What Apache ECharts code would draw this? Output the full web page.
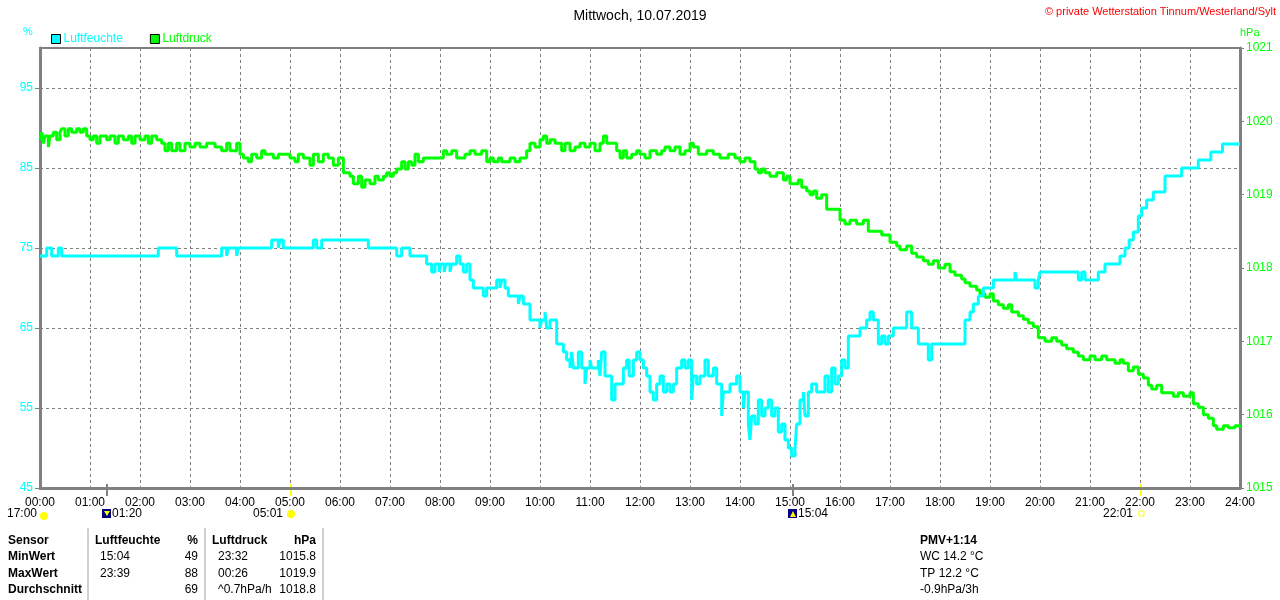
<!DOCTYPE html>
<html>
<head>
<meta charset="utf-8">
<title>Mittwoch, 10.07.2019</title>
<script src="https://cdn.jsdelivr.net/npm/echarts@6/dist/echarts.min.js"></script>
<style>
    html, body { margin: 0; padding: 0; background: #fff; }
    #chart { width: 1280px; height: 600px; }
</style>
</head>
<body>
<div id="chart"></div>
<script>
// Luftfeuchte (%), Stufenwerte: Zeitpunkt des Wechsels und neuer Wert
const humTimes = ['00:00', '00:08', '00:14', '00:22', '00:26', '02:22', '02:44', '03:38', '03:44', '03:46', '03:56', '03:58',
    '04:38', '04:46', '04:48', '04:52', '05:28', '05:32', '05:38', '06:34', '07:08', '07:14', '07:24', '07:44',
    '07:50', '07:54', '07:59', '08:01', '08:05', '08:07', '08:12', '08:14', '08:20', '08:24', '08:28', '08:32',
    '08:36', '08:40', '08:52', '08:56', '09:08', '09:12', '09:14', '09:18', '09:22', '09:34', '09:36', '09:40',
    '09:48', '10:00', '10:02', '10:06', '10:08', '10:12', '10:20', '10:28', '10:32', '10:36', '10:38', '10:40',
    '10:46', '10:50', '10:54', '10:56', '11:00', '11:02', '11:10', '11:12', '11:14', '11:18', '11:26', '11:30',
    '11:34', '11:40', '11:44', '11:47', '11:52', '11:56', '12:00', '12:04', '12:08', '12:12', '12:16', '12:20',
    '12:24', '12:28', '12:32', '12:36', '12:40', '12:44', '12:50', '12:54', '12:58', '13:02', '13:04', '13:08',
    '13:12', '13:18', '13:22', '13:28', '13:32', '13:38', '13:40', '13:48', '13:56', '14:00', '14:04', '14:06',
    '14:10', '14:12', '14:14', '14:18', '14:22', '14:26', '14:30', '14:34', '14:38', '14:42', '14:46', '14:50',
    '14:54', '14:58', '15:02', '15:06', '15:08', '15:12', '15:16', '15:18', '15:22', '15:26', '15:32', '15:36',
    '15:42', '15:46', '15:50', '15:54', '15:58', '16:02', '16:06', '16:10', '16:24', '16:32', '16:36', '16:40',
    '16:46', '16:50', '16:54', '16:58', '17:04', '17:20', '17:26', '17:34', '17:46', '17:50', '18:30', '18:36',
    '18:40', '18:46', '18:52', '19:04', '19:30', '19:32', '19:54', '19:58', '20:00', '20:46', '20:50', '20:54',
    '21:10', '21:18', '21:36', '21:42', '21:47', '21:52', '21:58', '22:02', '22:08', '22:16', '22:30', '22:50',
    '23:10', '23:25', '23:39', '24:00'];
const humValues = [74, 75, 74, 75, 74, 75, 74, 75, 74, 75, 74, 75,
    76, 75, 76, 75, 76, 75, 76, 75, 74, 75, 74, 73,
    72, 73, 72, 73, 72, 73, 72, 73, 74, 73, 72, 73,
    71, 70, 69, 70, 71, 70, 71, 70, 69, 68, 69, 68,
    66, 65, 66, 67, 65, 66, 63, 62, 61, 60, 62, 60,
    62, 60, 58, 60, 61, 60, 61, 59, 62, 59, 56, 58,
    58, 60, 61, 59, 61, 62, 61, 60, 59, 57, 56, 58,
    59, 57, 58, 57, 58, 60, 61, 60, 61, 56, 59, 58,
    59, 61, 59, 60, 58, 54, 57, 58, 59, 57, 55, 57,
    53, 51, 54, 53, 56, 54, 55, 56, 54, 55, 52, 53,
    51, 50, 49, 50, 53, 56, 57, 54, 57, 58, 57, 57,
    59, 57, 60, 58, 59, 61, 60, 64, 65, 66, 67, 66,
    63, 64, 63, 64, 65, 67, 65, 63, 61, 63, 66, 67,
    68, 69, 70, 71, 72, 71, 70, 71, 72, 71, 72, 71,
    72, 73, 74, 75, 76, 77, 79, 80, 81, 82, 84, 85,
    86, 87, 88, 88];

// Luftdruck (hPa)
const presTimes = ['00:00', '00:02', '00:04', '00:06', '00:10', '00:12', '00:16', '00:20', '00:24', '00:26', '00:30', '00:34',
    '00:38', '00:44', '00:48', '00:52', '00:56', '01:00', '01:04', '01:08', '01:12', '01:20', '01:24', '01:30',
    '01:34', '01:40', '01:46', '01:50', '01:54', '02:00', '02:06', '02:10', '02:14', '02:20', '02:26', '02:30',
    '02:34', '02:38', '02:44', '02:48', '02:54', '03:00', '03:06', '03:12', '03:20', '03:30', '03:38', '03:44',
    '03:48', '03:56', '04:00', '04:04', '04:10', '04:14', '04:20', '04:26', '04:30', '04:40', '04:46', '05:00',
    '05:06', '05:10', '05:16', '05:24', '05:28', '05:34', '05:40', '05:46', '05:52', '05:58', '06:04', '06:12',
    '06:16', '06:22', '06:26', '06:30', '06:36', '06:42', '06:46', '06:52', '06:56', '07:00', '07:04', '07:08',
    '07:14', '07:18', '07:22', '07:26', '07:30', '07:34', '07:40', '08:04', '08:08', '08:14', '08:20', '08:30',
    '08:36', '08:42', '08:50', '08:56', '09:00', '09:04', '09:10', '09:14', '09:24', '09:30', '09:36', '09:44',
    '09:48', '09:54', '10:00', '10:04', '10:08', '10:12', '10:18', '10:26', '10:30', '10:36', '10:42', '10:48',
    '10:54', '11:00', '11:06', '11:12', '11:16', '11:20', '11:32', '11:36', '11:40', '11:44', '11:50', '11:56',
    '12:00', '12:06', '12:12', '12:20', '12:26', '12:30', '12:36', '12:42', '12:48', '12:54', '13:00', '13:04',
    '13:10', '13:20', '13:28', '13:36', '13:46', '13:54', '14:00', '14:06', '14:12', '14:18', '14:22', '14:26',
    '14:30', '14:36', '14:44', '14:52', '14:56', '15:00', '15:10', '15:14', '15:20', '15:24', '15:28', '15:32',
    '15:38', '15:44', '16:00', '16:06', '16:12', '16:20', '16:28', '16:34', '16:50', '17:00', '17:08', '17:12',
    '17:20', '17:26', '17:32', '17:40', '17:46', '17:52', '17:58', '18:06', '18:12', '18:18', '18:26', '18:30',
    '18:36', '18:44', '18:48', '18:54', '19:00', '19:04', '19:10', '19:16', '19:22', '19:26', '19:34', '19:40',
    '19:46', '19:52', '19:58', '20:06', '20:14', '20:20', '20:26', '20:32', '20:40', '20:46', '20:52', '21:00',
    '21:06', '21:14', '21:20', '21:30', '21:36', '21:40', '21:46', '21:52', '21:58', '22:04', '22:10', '22:14',
    '22:20', '22:26', '22:40', '22:46', '22:52', '23:00', '23:04', '23:10', '23:16', '23:22', '23:28', '23:32',
    '23:40', '23:46', '23:54', '24:00'];
const presValues = [1019.75, 1019.85, 1019.7, 1019.8, 1019.65, 1019.8, 1019.85, 1019.75, 1019.85, 1019.9, 1019.8, 1019.9,
    1019.85, 1019.9, 1019.85, 1019.9, 1019.8, 1019.75, 1019.8, 1019.7, 1019.8, 1019.75, 1019.8, 1019.7,
    1019.8, 1019.75, 1019.8, 1019.7, 1019.8, 1019.75, 1019.8, 1019.7, 1019.8, 1019.75, 1019.7, 1019.6,
    1019.7, 1019.6, 1019.7, 1019.6, 1019.7, 1019.65, 1019.7, 1019.65, 1019.7, 1019.65, 1019.6, 1019.7,
    1019.6, 1019.7, 1019.55, 1019.5, 1019.45, 1019.55, 1019.5, 1019.6, 1019.55, 1019.5, 1019.55, 1019.5,
    1019.45, 1019.55, 1019.5, 1019.4, 1019.55, 1019.45, 1019.55, 1019.5, 1019.4, 1019.5, 1019.3, 1019.25,
    1019.15, 1019.25, 1019.1, 1019.2, 1019.15, 1019.25, 1019.2, 1019.25, 1019.3, 1019.25, 1019.3, 1019.35,
    1019.45, 1019.35, 1019.45, 1019.4, 1019.55, 1019.45, 1019.5, 1019.6, 1019.55, 1019.6, 1019.5, 1019.55,
    1019.6, 1019.55, 1019.6, 1019.45, 1019.5, 1019.45, 1019.5, 1019.45, 1019.5, 1019.45, 1019.5, 1019.6,
    1019.7, 1019.65, 1019.75, 1019.8, 1019.7, 1019.75, 1019.7, 1019.6, 1019.7, 1019.6, 1019.65, 1019.7,
    1019.65, 1019.7, 1019.6, 1019.7, 1019.8, 1019.7, 1019.6, 1019.5, 1019.6, 1019.5, 1019.55, 1019.6,
    1019.55, 1019.5, 1019.6, 1019.55, 1019.6, 1019.65, 1019.6, 1019.65, 1019.55, 1019.6, 1019.7, 1019.65,
    1019.55, 1019.6, 1019.55, 1019.5, 1019.55, 1019.5, 1019.45, 1019.5, 1019.45, 1019.35, 1019.3, 1019.35,
    1019.3, 1019.25, 1019.3, 1019.2, 1019.25, 1019.15, 1019.2, 1019.1, 1019.05, 1019.0, 1019.05, 1018.95,
    1019.0, 1018.8, 1018.65, 1018.6, 1018.65, 1018.6, 1018.65, 1018.5, 1018.45, 1018.35, 1018.3, 1018.25,
    1018.3, 1018.2, 1018.15, 1018.1, 1018.05, 1018.1, 1018.0, 1018.05, 1017.95, 1017.9, 1017.85, 1017.8,
    1017.75, 1017.7, 1017.65, 1017.6, 1017.65, 1017.55, 1017.5, 1017.45, 1017.5, 1017.4, 1017.35, 1017.3,
    1017.25, 1017.2, 1017.05, 1017.0, 1017.05, 1017.0, 1016.95, 1016.9, 1016.85, 1016.8, 1016.75, 1016.8,
    1016.75, 1016.8, 1016.75, 1016.7, 1016.75, 1016.7, 1016.6, 1016.65, 1016.55, 1016.5, 1016.4, 1016.35,
    1016.4, 1016.3, 1016.25, 1016.3, 1016.25, 1016.3, 1016.15, 1016.1, 1016.0, 1015.95, 1015.85, 1015.8,
    1015.85, 1015.82, 1015.85, 1015.82];

// Tabelle unten
const tableRows = [
    ['Sensor', 'Luftfeuchte', '%', 'Luftdruck', 'hPa'],
    ['MinWert', '15:04', '49', '23:32', '1015.8'],
    ['MaxWert', '23:39', '88', '00:26', '1019.9'],
    ['Durchschnitt', '', '69', '^0.7hPa/h', '1018.8']
];
const infoLines = ['PMV+1:14', 'WC 14.2 °C', 'TP 12.2 °C', '-0.9hPa/3h'];

// Sonne / Mond Auf- und Untergang
const sunMoonMarks = [
    {time: '01:20', label: '01:20', kind: 'moonrise'},
    {time: '05:01', label: '05:01', kind: 'sunrise'},
    {time: '15:04', label: '15:04', kind: 'moonset'},
    {time: '22:01', label: '22:01', kind: 'sunset'}
];

const FONT = 'Liberation Sans, Arial, sans-serif';
const CYAN = '#00ffff';
const GREEN = '#00ff00';
const GREY = '#808080';

function toMinutes(t) {
    const p = t.split(':');
    return Number(p[0]) * 60 + Number(p[1]);
}

function pad(n) {
    return (n < 10 ? '0' : '') + n;
}

const humData = humTimes.map((t, i) => [toMinutes(t), humValues[i]]);
const presData = presTimes.map((t, i) => [toMinutes(t), presValues[i]]);

const chart = echarts.init(document.getElementById('chart'));

const option = {
    animation: false,
    backgroundColor: '#fff',
    textStyle: {fontFamily: FONT},
    title: {
        text: 'Mittwoch, 10.07.2019',
        left: 'center',
        top: 4,
        textStyle: {fontSize: 14, fontWeight: 'normal', color: '#000', fontFamily: FONT}
    },
    legend: {
        left: 46,
        top: 28,
        icon: 'rect',
        itemWidth: 9,
        itemHeight: 9,
        itemGap: 27,
        itemStyle: {borderColor: '#000', borderWidth: 1},
        textStyle: {fontSize: 12, fontFamily: FONT, padding: [0, 0, 0, -2]},
        data: [
            {name: 'Luftfeuchte', textStyle: {color: CYAN}},
            {name: 'Luftdruck', textStyle: {color: GREEN}}
        ]
    },
    grid: {
        left: 40,
        right: 40,
        top: 48,
        bottom: 112,
        show: true,
        borderColor: GREY,
        borderWidth: 2
    },
    xAxis: {
        type: 'value',
        min: 0,
        max: 1440,
        interval: 60,
        axisLine: {lineStyle: {color: GREY, width: 3}},
        axisTick: {show: false},
        axisLabel: {
            color: '#000',
            fontSize: 12,
            margin: 9,
            formatter: v => pad(v / 60) + ':00'
        },
        splitLine: {show: true, lineStyle: {color: GREY, type: [3, 3], width: 1}}
    },
    yAxis: [
        {
            type: 'value',
            min: 45,
            max: 100,
            interval: 10,
            position: 'left',
            axisLine: {show: true, lineStyle: {color: GREY, width: 3}},
            axisTick: {show: true, length: 5, lineStyle: {color: GREY}},
            axisLabel: {color: CYAN, fontSize: 12, margin: 7, showMaxLabel: false, formatter: v => String(v)},
            splitLine: {show: true, lineStyle: {color: GREY, type: [3, 3], width: 1}}
        },
        {
            type: 'value',
            min: 1015,
            max: 1021,
            interval: 1,
            position: 'right',
            axisLine: {show: true, lineStyle: {color: GREY, width: 3}},
            axisTick: {show: true, length: 4, lineStyle: {color: GREY}},
            axisLabel: {color: GREEN, fontSize: 12, margin: 6, formatter: v => String(v)},
            splitLine: {show: false}
        }
    ],
    series: [
        {
            name: 'Luftfeuchte',
            type: 'line',
            step: 'end',
            yAxisIndex: 0,
            data: humData,
            showSymbol: false,
            color: CYAN,
            lineStyle: {color: CYAN, width: 3},
            z: 3
        },
        {
            name: 'Luftdruck',
            type: 'line',
            step: 'end',
            yAxisIndex: 1,
            data: presData,
            showSymbol: false,
            color: GREEN,
            lineStyle: {color: GREEN, width: 3},
            z: 2
        }
    ]
};

chart.setOption(option);

// Beschriftungen und Tabelle als Grafik-Elemente
const graphics = [];

graphics.push({
    type: 'text', right: 4, top: 6,
    style: {text: '© private Wetterstation Tinnum/Westerland/Sylt', fill: '#ff0000', font: '11px ' + FONT}
});
graphics.push({
    type: 'text', left: 23, top: 26,
    style: {text: '%', fill: CYAN, font: '11px ' + FONT}
});
graphics.push({
    type: 'text', left: 1240, top: 27,
    style: {text: 'hPa', fill: GREEN, font: '11px ' + FONT}
});

// 17:00 am linken Rand (Sonnenuntergang Vortag)
graphics.push({
    type: 'text', x: 37, y: 514,
    style: {text: '17:00', fill: '#000', font: '12px ' + FONT, align: 'right', verticalAlign: 'middle'}
});
graphics.push({
    type: 'circle', shape: {cx: 44, cy: 516, r: 4},
    style: {fill: '#ffff00'}
});

const axisY = chart.convertToPixel({yAxisIndex: 0}, 45);
sunMoonMarks.forEach(m => {
    const x = Math.round(chart.convertToPixel({xAxisIndex: 0}, toMinutes(m.time)));
    const isSun = m.kind.indexOf('sun') === 0;
    graphics.push({
        type: 'line',
        shape: {x1: x, y1: axisY - 4, x2: x, y2: axisY + 8},
        style: {stroke: isSun ? '#ffff00' : GREY, lineWidth: 2}
    });
    if (isSun) {
        graphics.push({
            type: 'text', x: x - 8, y: 514,
            style: {text: m.label, fill: '#000', font: '12px ' + FONT, align: 'right', verticalAlign: 'middle'}
        });
        if (m.kind === 'sunrise') {
            graphics.push({type: 'circle', shape: {cx: x, cy: 514, r: 4}, style: {fill: '#ffff00'}});
        } else {
            graphics.push({type: 'rect', shape: {x: x - 2, y: 511, width: 5, height: 5},
                style: {fill: 'none', stroke: '#ffff00', lineWidth: 1}});
        }
    } else {
        graphics.push({type: 'rect', shape: {x: x - 5, y: 509, width: 9, height: 9}, style: {fill: '#000080'}});
        graphics.push({type: 'polygon', shape: {points: m.kind === 'moonrise'
                ? [[x - 3, 511], [x + 3, 511], [x, 516]]
                : [[x - 3, 517], [x + 3, 517], [x, 511]]}, style: {fill: '#ffff00'}});
        graphics.push({
            type: 'text', x: x + 5, y: 514,
            style: {text: m.label, fill: '#000', font: '12px ' + FONT, verticalAlign: 'middle'}
        });
    }
});

// Tabelle
const colX = [8, 100, 198, 218, 316];
const colAlign = ['left', 'left', 'right', 'left', 'right'];
const rowY = [541, 557, 574, 590];
tableRows.forEach((row, r) => {
    row.forEach((cell, c) => {
        let x = colX[c];
        if (r === 0 && c === 1) x = 95;
        if (r === 0 && c === 3) x = 212;
        const bold = r === 0 || c === 0;
        graphics.push({
            type: 'text', x: x, y: rowY[r],
            style: {
                text: cell, fill: '#000', align: colAlign[c], verticalAlign: 'middle',
                font: (bold ? 'bold ' : '') + '12px ' + FONT
            }
        });
    });
});
[88, 205, 323].forEach(x => {
    graphics.push({
        type: 'line', shape: {x1: x, y1: 528, x2: x, y2: 600},
        style: {stroke: '#a0a0a0', lineWidth: 1}
    });
});
infoLines.forEach((line, i) => {
    graphics.push({
        type: 'text', x: 920, y: rowY[i],
        style: {
            text: line, fill: '#000', verticalAlign: 'middle',
            font: (i === 0 ? 'bold ' : '') + '12px ' + FONT
        }
    });
});

chart.setOption({graphic: graphics});
</script>
</body>
</html>
